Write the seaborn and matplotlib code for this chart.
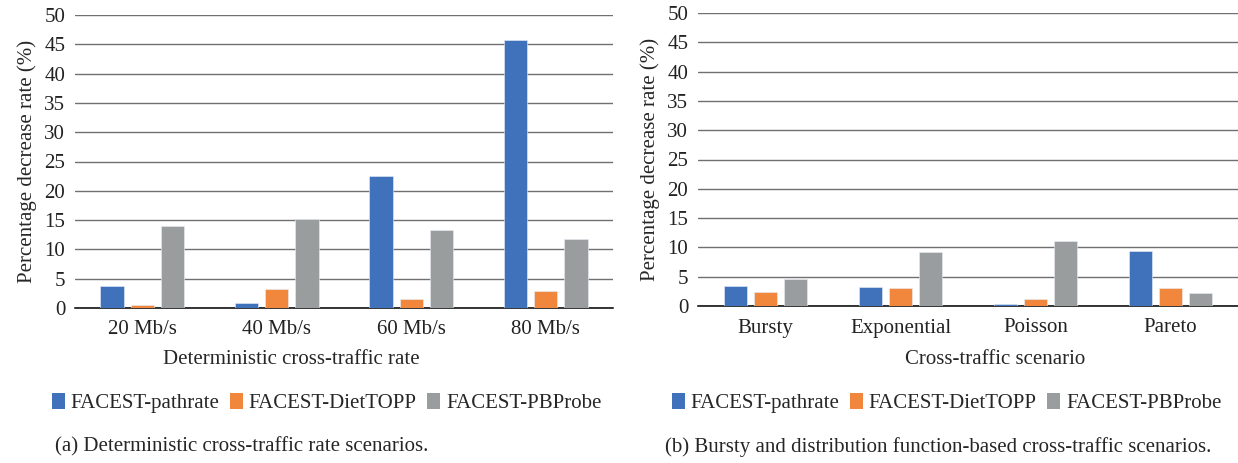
import seaborn as sns
import matplotlib.pyplot as plt
import pandas as pd
from matplotlib.patches import Patch

# data
series = ['FACEST-pathrate', 'FACEST-DietTOPP', 'FACEST-PBProbe']
colors = ['#3f72ba', '#f0873d', '#9a9d9d']

rates = ['20 Mb/s', '40 Mb/s', '60 Mb/s', '80 Mb/s']
rate_pathrate = [3.75, 0.8, 22.6, 45.7]
rate_diettopp = [0.57, 3.3, 1.5, 2.85]
rate_pbprobe = [14.05, 15.2, 13.3, 11.7]

scenarios = ['Bursty', 'Exponential', 'Poisson', 'Pareto']
scen_pathrate = [3.4, 3.25, 0.3, 9.35]
scen_diettopp = [2.4, 3.1, 1.2, 3.0]
scen_pbprobe = [4.55, 9.2, 11.1, 2.15]

yticks = list(range(0, 55, 5))


def long_table(cats, a, b, c):
    rows = []
    for name, vals in zip(series, [a, b, c]):
        for cat, v in zip(cats, vals):
            rows.append({'cat': cat, 'method': name, 'value': v})
    return pd.DataFrame(rows)


df_rate = long_table(rates, rate_pathrate, rate_diettopp, rate_pbprobe)
df_scen = long_table(scenarios, scen_pathrate, scen_diettopp, scen_pbprobe)

sns.set_style('white')
plt.rcParams['font.family'] = ['Liberation Serif', 'DejaVu Serif']
fs = 15

W, H = 1238, 463
fig = plt.figure(figsize=(W / 100, H / 100), dpi=100)
ax1 = fig.add_axes([75 / W, (H - 308) / H, 538 / W, 293 / H])
ax2 = fig.add_axes([698 / W, (H - 306) / H, 540 / W, 293 / H])

for ax, df, cats in [(ax1, df_rate, rates), (ax2, df_scen, scenarios)]:
    sns.barplot(data=df, x='cat', y='value', hue='method', order=cats,
                hue_order=series, palette=colors, saturation=1, width=0.67, gap=0.22,
                edgecolor='#e8eef7', linewidth=0.4, legend=False, ax=ax, zorder=3)
    ax.set_ylim(0, 50)
    ax.set_yticks(yticks)
    ax.set_xlim(-0.5, 3.5)
    ax.yaxis.grid(True, color='#707070', linewidth=1.0)
    ax.set_axisbelow(True)
    for s in ['top', 'right', 'left']:
        ax.spines[s].set_visible(False)
    ax.spines['bottom'].set_color('black')
    ax.spines['bottom'].set_linewidth(1.1)
    ax.spines['bottom'].set_zorder(2)
    ax.set_xlabel('')
    ax.set_ylabel('Percentage decrease rate (%)', fontsize=fs, labelpad=5)
    ax.tick_params(axis='y', labelsize=fs, length=0, pad=7, colors='#222222')
    ax.tick_params(axis='x', labelsize=fs, length=0, pad=9, colors='#222222')

# small ticks between categories on the left panel
ax1.set_xticks([-0.5, 0.5, 1.5, 2.5, 3.5], minor=True)
ax1.tick_params(axis='x', which='minor', length=5, color='#888888', direction='out')

fig.text(291 / W, 1 - 360 / H, 'Deterministic cross-traffic rate', ha='center', va='center', fontsize=fs)
fig.text(995 / W, 1 - 360 / H, 'Cross-traffic scenario', ha='center', va='center', fontsize=fs)

handles = [Patch(facecolor=c, edgecolor='none') for c in colors]
for x0 in [52, 672]:
    fig.legend(handles, series, loc='center left', bbox_to_anchor=(x0 / W, 1 - 403 / H),
               ncol=3, frameon=False, fontsize=fs, handlelength=0.6, handleheight=0.85,
               handletextpad=0.3, columnspacing=0.5, borderpad=0, borderaxespad=0)

fig.text(55 / W, 1 - 447 / H, '(a) Deterministic cross-traffic rate scenarios.', ha='left', va='center', fontsize=fs)
fig.text(665 / W, 1 - 447 / H, '(b) Bursty and distribution function-based cross-traffic scenarios.', ha='left', va='center', fontsize=fs)

fig.savefig('out.png', dpi=100)
